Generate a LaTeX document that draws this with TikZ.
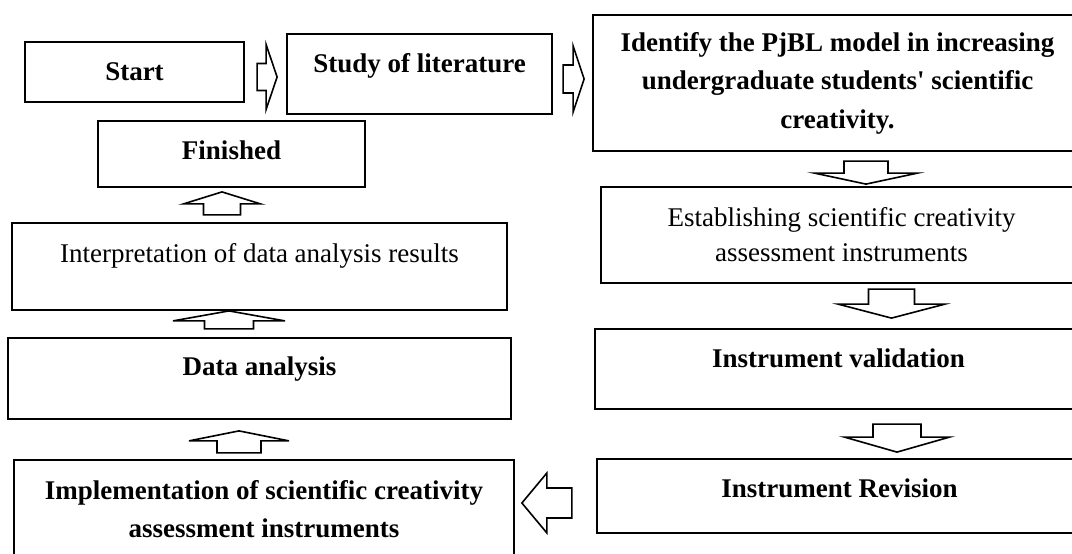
\documentclass[tikz,border=0pt]{standalone}
\usepackage{fontspec}
\setmainfont{Liberation Serif}
\usetikzlibrary{calc}

\tikzset{
  pics/barrow/.style n args={4}{code={
    \draw[line width=0.8pt, fill=white] (0,-#3) -- ({#1-#2},-#3) -- ({#1-#2},-#4)
      -- (#1,0) -- ({#1-#2},#4) -- ({#1-#2},#3) -- (0,#3) -- cycle;
  }}
}

\begin{document}
\begin{tikzpicture}[x=0.5pt, y=-0.5pt,
    box/.style={draw, line width=1.1pt, inner sep=2pt, align=center},
    hd/.style={font=\fontsize{13.5}{19.25}\selectfont\bfseries},
    tx/.style={font=\fontsize{13.5}{17.5}\selectfont},
    oneline/.style={text height=9.5pt, text depth=#1}]
   \useasboundingbox (0,0) rectangle (1072,553);
   \clip (0,0) rectangle (1072,553);

   \node [box, hd, oneline=1.5pt, minimum width=109.5pt, minimum height=30pt] (start) at (134.5,72) {Start};
   \node [box, hd, oneline=11.5pt, minimum width=132.5pt, minimum height=40pt] (study) at (419.5,74) {Study of literature};
   \node [box, hd, minimum width=244.5pt, minimum height=68pt] (ident) at (837.5,83)
     {Identify the PjBL model in increasing\\undergraduate students\textquotesingle{} scientific\\creativity.};
   \node [box, tx, minimum width=240.5pt, minimum height=48pt] (estab) at (841.5,235)
     {Establishing scientific creativity\\assessment instruments};
   \node [box, hd, oneline=11.5pt, minimum width=243.5pt, minimum height=40pt] (valid) at (838.5,369) {Instrument validation};
   \node [box, hd, oneline=8.5pt, minimum width=242.5pt, minimum height=37pt] (rev) at (839.5,496) {Instrument Revision};
   \node [box, hd, minimum width=250pt, minimum height=49pt] (impl) at (264,509)
     {Implementation of scientific creativity\\assessment instruments};
   \node [box, hd, oneline=13pt, minimum width=251.5pt, minimum height=40.5pt] (data) at (259.5,378.5) {Data analysis};
   \node [box, tx, oneline=14pt, minimum width=247.5pt, minimum height=43.5pt] (interp) at (259.5,266.5) {Interpretation of data analysis results};
   \node [box, hd, oneline=4.5pt, minimum width=133.5pt, minimum height=33pt] (finish) at (231.5,154) {Finished};

   % block arrows: length, head length, shaft half width, head half width
   \pic at ($(start.east)+(12,5)$) {barrow={20}{11}{13.5}{32.5}};
   \pic at ($(study.east)+(10,5)$) {barrow={21}{11}{14}{33}};
   \pic [rotate=-90] at ($(ident.south)+(28.5,9)$) {barrow={23}{11}{22}{51.5}};
   \pic [rotate=-90] at ($(estab.south)+(50,5)$) {barrow={29}{14}{23}{53.5}};
   \pic [rotate=-90] at ($(valid.south)+(58.5,14)$) {barrow={28}{15}{24}{52.5}};
   \pic [rotate=180] at ($(rev.west)+(-24,7)$) {barrow={50}{25}{15}{30}};
   \pic [rotate=90] at ($(impl.north)+(-25,-6)$) {barrow={22}{10}{22}{50}};
   \pic [rotate=90] at ($(data.north)+(-30.5,-8)$) {barrow={18}{10}{24.5}{56}};
   \pic [rotate=90] at ($(interp.north)+(-37.5,-7)$) {barrow={23}{12}{18.5}{38.5}};
\end{tikzpicture}
\end{document}
